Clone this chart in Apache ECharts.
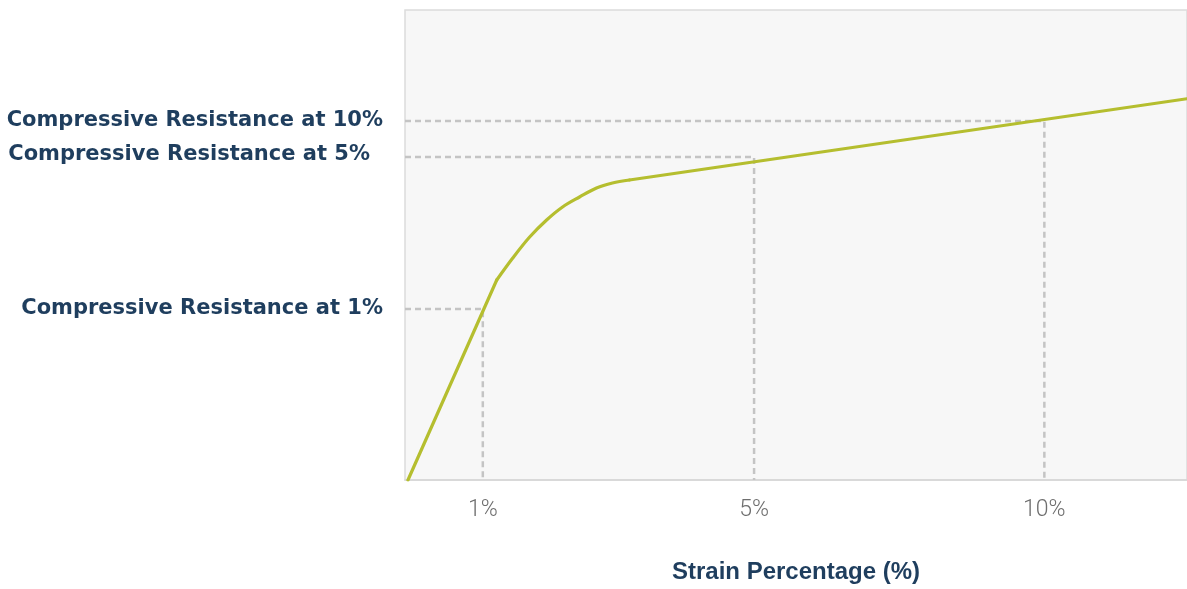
<!DOCTYPE html>
<html>
<head>
<meta charset="utf-8">
<script src="https://cdn.jsdelivr.net/npm/echarts@6/dist/echarts.min.js"></script>
<style>
html,body{margin:0;padding:0;background:#ffffff;}
#chart{width:1187px;height:589px;}
</style>
</head>
<body>
<div id="chart"></div>
<script>
// Schematic strain position (0-100 axis units) and resistance (0-100 axis units)
// Elastic (linear) part
const elasticStrain = [0.38, 11.73];
const elasticResistance = [0, 42.55];
// Yield (curved) part
const yieldStrain = [11.73, 13.78, 15.94, 18.11, 20.15, 22.32, 24.49, 26.53, 28.70];
const yieldResistance = [42.55, 47.23, 51.70, 55.32, 58.09, 60.21, 62.13, 63.19, 63.83];
// Plateau (linear) part
const plateauStrain = [28.70, 100];
const plateauResistance = [63.83, 81.12];

// Reference strain levels
const refLabels = ['1%', '5%', '10%'];
const refStrainPos = [9.95, 44.64, 81.76];
const refResistance = [36.38, 68.72, 76.38];
const yLabels = ['Compressive Resistance at 1%', 'Compressive Resistance at 5%', 'Compressive Resistance at 10%'];

const chart = echarts.init(document.getElementById('chart'));

const lineColor = '#b5be2f';
function pairs(xs, ys) { return xs.map(function (x, i) { return [x, ys[i]]; }); }

const series = [];
refStrainPos.forEach(function (x, i) {
  series.push({
    type: 'line',
    silent: true,
    symbol: 'none',
    z: 1,
    lineStyle: { color: '#c4c4c4', width: 2.5, type: [6, 4] },
    data: [[0, refResistance[i]], [x, refResistance[i]], [x, 0]]
  });
});
[[elasticStrain, elasticResistance, false], [yieldStrain, yieldResistance, 0.35], [plateauStrain, plateauResistance, false]].forEach(function (p) {
  series.push({
    type: 'line',
    symbol: 'none',
    z: 3,
    smooth: p[2],
    lineStyle: { color: lineColor, width: 3.2, cap: 'round', join: 'round' },
    data: pairs(p[0], p[1])
  });
});

chart.setOption({
  animation: false,
  grid: {
    left: 405, top: 10, right: -2, bottom: 109,
    show: true, backgroundColor: '#f7f7f7', borderColor: '#dcdcdc', borderWidth: 1.5
  },
  xAxis: {
    type: 'value', min: 0, max: 100,
    splitLine: { show: false },
    axisTick: { show: false },
    axisLine: { show: true, lineStyle: { color: '#d6d6d6', width: 1.5 } },
    axisLabel: {
      customValues: refStrainPos,
      margin: 19,
      color: '#6e6e6e',
      fontSize: 23,
      fontFamily: 'Roboto',
      fontWeight: 300,
      formatter: function (v) {
        const i = refStrainPos.indexOf(v);
        return i >= 0 ? refLabels[i] : '';
      }
    },
    name: 'Strain Percentage (%)',
    nameLocation: 'middle',
    nameGap: 80,
    nameTextStyle: { color: '#1f3e5e', fontSize: 24, fontWeight: 'bold', fontFamily: 'Liberation Sans' }
  },
  yAxis: {
    type: 'value', min: 0, max: 100,
    splitLine: { show: false },
    axisTick: { show: false },
    axisLine: { show: false },
    axisLabel: {
      customValues: refResistance,
      margin: 22,
      color: '#1f3e5e',
      fontSize: 21,
      fontWeight: 'bold',
      fontFamily: 'DejaVu Sans',
      formatter: function (v) {
        const i = refResistance.indexOf(v);
        if (i === 1) return '{s|' + yLabels[i] + '}';
        return i >= 0 ? yLabels[i] : '';
      },
      rich: {
        s: { color: '#1f3e5e', fontSize: 21, fontWeight: 'bold', fontFamily: 'DejaVu Sans', padding: [0, 13, 4, 0] }
      }
    }
  },
  series: series
});
</script>
</body>
</html>
